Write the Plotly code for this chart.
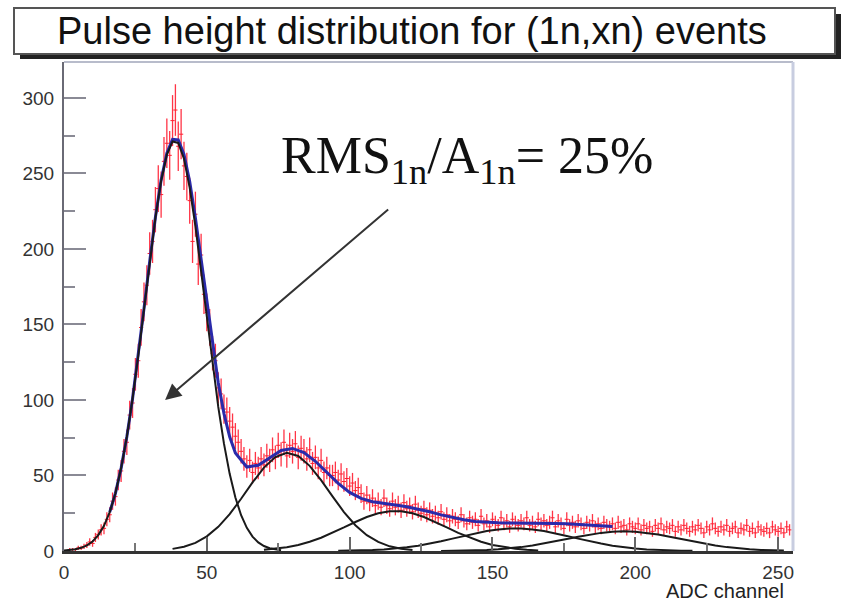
import numpy as np
import plotly.graph_objects as go

# ---------------- data ----------------
adc_channel = list(range(0, 255))
counts = [0, 0, 1, 1, 1, 2, 2, 3, 4, 6, 5, 9, 11, 14, 15, 21,
          24, 33, 36, 47, 53, 66, 72, 90, 98, 117, 126, 148, 165, 176, 197, 205,
          226, 240, 236, 258, 270, 262, 285, 292, 268, 276, 255, 248, 232, 205, 223, 190,
          196, 170, 158, 148, 131, 126, 108, 104, 94, 92, 86, 82, 76, 72, 66, 61,
          56, 60, 52, 58, 55, 61, 57, 63, 60, 67, 62, 70, 64, 72, 63, 70,
          66, 71, 62, 68, 66, 61, 67, 58, 62, 55, 60, 52, 55, 50, 50, 52,
          47, 51, 46, 48, 43, 45, 40, 42, 38, 33, 37, 32, 35, 30, 33, 29,
          35, 30, 28, 33, 29, 31, 27, 32, 28, 30, 26, 31, 27, 25, 28, 24,
          27, 23, 25, 22, 26, 21, 24, 20, 23, 21, 19, 24, 20, 18, 22, 19,
          21, 17, 23, 18, 20, 16, 21, 19, 17, 22, 18, 20, 16, 21, 19, 17,
          20, 18, 22, 17, 19, 16, 21, 18, 20, 17, 19, 22, 16, 20, 18, 15,
          21, 17, 19, 16, 20, 18, 15, 19, 17, 20, 16, 18, 15, 19, 17, 16,
          18, 15, 19, 16, 17, 14, 18, 16, 15, 18, 14, 17, 15, 16, 13, 17,
          15, 18, 14, 16, 15, 17, 13, 16, 14, 17, 15, 13, 16, 14, 17, 15,
          12, 16, 14, 18, 15, 13, 16, 14, 17, 13, 15, 16, 12, 15, 14, 17,
          13, 15, 12, 16, 14, 13, 15, 12, 16, 14, 13, 15, 12, 16, 14]

# total fit (blue)
fit_x = [16, 18, 20, 22, 24, 26, 28, 30, 32, 34, 36, 38, 40, 42, 44, 46, 48, 50,
         52, 54, 56, 58, 60, 64, 68, 72, 76, 80, 84, 88, 92, 96, 100, 104, 108,
         112, 116, 120, 124, 128, 132, 136, 140, 144, 148, 152, 156, 160, 164,
         168, 172, 176, 180, 184, 188, 192]
fit_y = [25.7, 38.2, 54.9, 75.6, 100.9, 129.5, 160.5, 191.8, 221.0, 245.6, 263.4,
         272.6, 272.2, 262.6, 244.6, 220.5, 192.6, 163.7, 136.0, 111.4, 91.0, 75.6,
         64.9, 55.6, 56.8, 62.0, 66.6, 67.9, 65.2, 59.4, 52.1, 44.8, 38.8, 34.8,
         32.6, 31.3, 30.4, 29.3, 27.9, 26.0, 23.9, 22.1, 20.7, 19.5, 18.9, 18.7,
         18.6, 18.6, 18.5, 18.4, 18.2, 18.0, 17.6, 17.3, 16.9, 16.2]

# individual peak components (black)
c1_x = list(range(0, 78, 2))
c1_y = [0.3, 0.6, 1.1, 2.1, 3.7, 6.3, 10.5, 16.7, 25.7, 38.2, 54.9, 75.6, 100.8,
        129.4, 160.3, 191.5, 220.6, 245.0, 262.5, 271.2, 270.2, 259.8, 240.6,
        215.1, 185.3, 154.0, 123.5, 95.4, 71.1, 51.1, 35.4, 23.7, 15.3, 9.5, 5.7,
        3.3, 1.8, 1.0, 0.5]
c2_x = list(range(38, 126, 4))
c2_y = [1.4, 2.8, 5.4, 9.7, 16.0, 24.4, 34.6, 45.4, 55.2, 62.2, 65.0, 62.9, 56.4,
        46.9, 36.2, 25.8, 17.1, 10.5, 6.0, 3.1, 1.5, 0.7]
c3_x = list(range(70, 170, 4))
c3_y = [0.8, 1.5, 2.5, 4.0, 6.1, 8.8, 12.0, 15.6, 19.2, 22.5, 25.0, 26.3, 26.3,
        25.0, 22.5, 19.2, 15.6, 12.0, 8.8, 6.1, 4.0, 2.5, 1.5, 0.8, 0.4]
c4_x = list(range(96, 224, 4))
c4_y = [0.12, 0.22, 0.39, 0.66, 1.07, 1.65, 2.47, 3.54, 4.87, 6.44, 8.19, 10.0,
        11.7, 13.2, 14.3, 14.9, 14.9, 14.3, 13.2, 11.7, 10.0, 8.2, 6.4, 4.9, 3.5,
        2.5, 1.65, 1.07, 0.66, 0.39, 0.22, 0.12]
c5_x = list(range(132, 256, 4))
c5_y = [0.08, 0.14, 0.26, 0.44, 0.73, 1.16, 1.76, 2.57, 3.61, 4.88, 6.33, 7.88,
        9.44, 10.86, 12.0, 12.74, 13.0, 12.74, 12.0, 10.86, 9.44, 7.88, 6.33,
        4.88, 3.61, 2.57, 1.76, 1.16, 0.73, 0.44, 0.26]

y_tick_vals = [0, 50, 100, 150, 200, 250, 300]
x_tick_vals = [0, 50, 100, 150, 200, 250]
title_text = "Pulse height distribution for (1n,xn) events"
x_title = "ADC channel"
note_text = "RMS<sub>1n</sub>/A<sub>1n</sub>= 25%"

# ---------------- figure ----------------
W, H = 845, 605
L, R, T, B = 64, 52, 62, 54
pw, ph = W - L - R, H - T - B

def px_x(p):
    return (p - L) / pw

def px_y(p):
    return (H - B - p) / ph

errs = np.sqrt(np.array(counts, dtype=float))

fig = go.Figure()
fig.add_trace(go.Scatter(
    x=adc_channel, y=counts, mode="markers",
    marker=dict(symbol="line-ew-open", size=3, color="#ff2030",
                line=dict(color="#ff2030", width=1)),
    error_y=dict(type="data", array=errs, visible=True, color="rgba(255,30,50,0.9)",
                 thickness=1.3, width=0),
    showlegend=False, hoverinfo="skip"))

fig.add_trace(go.Scatter(x=fit_x, y=fit_y, mode="lines",
                         line=dict(color="#2a2aaa", width=3), showlegend=False))

for cx, cy in [(c1_x, c1_y), (c2_x, c2_y), (c3_x, c3_y), (c4_x, c4_y), (c5_x, c5_y)]:
    fig.add_trace(go.Scatter(x=cx, y=cy, mode="lines",
                             line=dict(color="#1a1a1a", width=2), showlegend=False))

shapes = [
    # title box shadow
    dict(type="rect", xref="paper", yref="paper", x0=px_x(20), x1=px_x(841),
         y0=px_y(59), y1=px_y(14), fillcolor="#222222", line=dict(width=0), layer="above"),
    # title box
    dict(type="rect", xref="paper", yref="paper", x0=px_x(14), x1=px_x(835),
         y0=px_y(54), y1=px_y(8), fillcolor="white",
         line=dict(color="#555555", width=2), layer="above"),
    # frame top/right
    dict(type="line", xref="paper", yref="paper", x0=0, x1=1, y0=1, y1=1,
         line=dict(color="#b8bccb", width=2)),
    dict(type="line", xref="paper", yref="paper", x0=1, x1=1, y0=0, y1=1,
         line=dict(color="#c8cde0", width=3)),
]

annotations = [
    dict(text=title_text, xref="paper", yref="paper", x=px_x(412), y=px_y(31),
         xanchor="center", yanchor="middle", showarrow=False,
         font=dict(family="Liberation Sans", size=38, color="#111111")),
    dict(text=x_title, xref="paper", yref="paper", x=px_x(786), y=px_y(591),
         xanchor="right", yanchor="middle", showarrow=False,
         font=dict(family="Liberation Sans", size=20, color="#222222")),
    dict(text=note_text, x=141, y=259, xref="x", yref="y", showarrow=False,
         xanchor="center", yanchor="middle",
         font=dict(family="Liberation Serif", size=52, color="#111111")),
    dict(text="", x=35.4, y=100, ax=114, ay=227, xref="x", yref="y",
         axref="x", ayref="y", showarrow=True, arrowhead=2, arrowsize=1.6,
         arrowwidth=2, arrowcolor="#333333"),
]

fig.update_layout(
    width=W, height=H, margin=dict(l=L, r=R, t=T, b=B),
    paper_bgcolor="white", plot_bgcolor="white",
    shapes=shapes, annotations=annotations,
    xaxis=dict(range=[0, 255.2], tickvals=x_tick_vals, ticks="inside", ticklen=14,
               tickwidth=2, tickcolor="#666666", showgrid=False, zeroline=False,
               showline=True, linecolor="#333333", linewidth=3,
               tickfont=dict(family="Liberation Sans", size=19, color="#333333"),
               ticklabelstandoff=2,
               minor=dict(dtick=25, tick0=0, ticks="inside", ticklen=8,
                          tickcolor="#777777", tickwidth=2)),
    yaxis=dict(range=[0, 323.8], tickvals=y_tick_vals, ticks="inside", ticklen=22,
               tickwidth=2, tickcolor="#8a8a95", showgrid=False, zeroline=False,
               showline=True, linecolor="#6a6a75", linewidth=2,
               tickfont=dict(family="Liberation Sans", size=19, color="#333333"),
               ticklabelstandoff=4,
               minor=dict(dtick=25, tick0=0, ticks="inside", ticklen=11,
                          tickcolor="#8a8a95", tickwidth=2)),
)

fig.write_html("out.html")
